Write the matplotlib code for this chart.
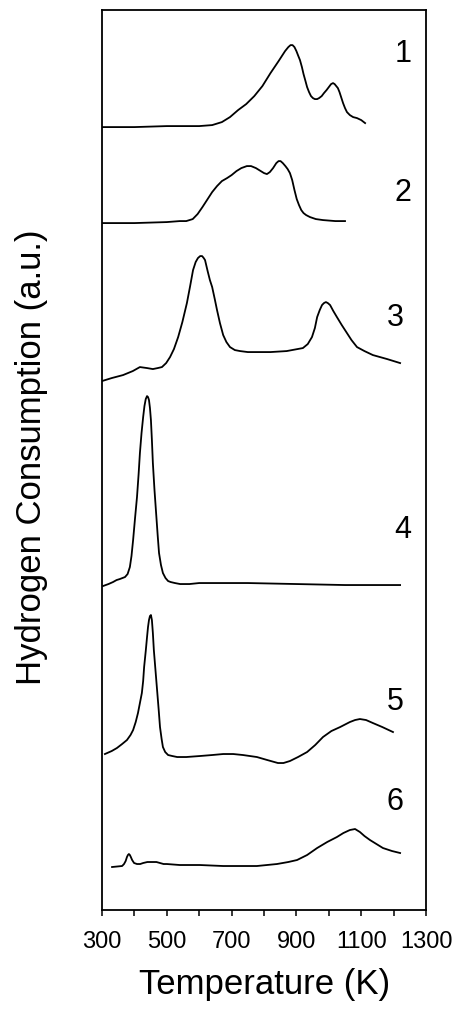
import numpy as np
import matplotlib
matplotlib.use('Agg')
import matplotlib.pyplot as plt

plt.rcParams['font.family'] = ['Liberation Sans', 'DejaVu Sans']

# TPR traces: temperature (K) and signal above each baseline (a.u.)
t1 = [300, 400, 500, 600, 640, 670, 695, 720, 745, 770, 795, 820, 845, 865, 875, 882, 888, 894,
      900, 906, 911, 917, 922, 928, 933, 939, 945, 951, 957, 964, 970, 978, 985, 993, 1000, 1007,
      1013, 1018, 1023, 1028, 1033, 1038, 1044, 1050, 1056, 1065, 1075, 1087, 1100, 1112]
s1 = [0, 0, 1, 1, 2, 5, 10, 17, 23, 31, 41, 54, 66, 76, 80, 82, 82, 80,
      76, 71, 67, 60, 53, 46, 40, 35, 31, 29, 28, 28, 29, 31, 34, 37, 40, 43,
      44, 43, 41, 39, 35, 30, 24, 19, 15, 12, 10, 9, 7, 4]

t2 = [300, 400, 500, 540, 560, 580, 595, 610, 624, 640, 655, 670, 686, 700, 715, 730, 747, 760,
      775, 790, 800, 809, 818, 828, 838, 845, 851, 858, 866, 873, 880, 887, 894, 901, 908, 915,
      922, 930, 942, 960, 982, 1020, 1050]
s2 = [0, 0, 1, 2, 2, 4, 9, 16, 23, 31, 37, 42, 45, 48, 52, 55, 57, 57,
      55, 52, 50, 49, 51, 55, 60, 62, 62, 60, 57, 54, 50, 43, 33, 24, 18, 13,
      10, 8, 6, 4, 3, 2, 2]

t3 = [300, 330, 365, 395, 417, 439, 457, 472, 485, 498, 510, 522, 535, 548, 562, 572, 581, 589,
      596, 603, 609, 614, 618, 626, 633, 640, 648, 655, 664, 674, 684, 695, 710, 726, 750, 778,
      820, 870, 920, 935, 948, 957, 964, 972, 979, 985, 991, 997, 1004, 1014, 1025, 1040, 1056,
      1070, 1087, 1110, 1136, 1180, 1220]
s3 = [0, 3, 6, 10, 14, 13, 12, 13, 14, 18, 24, 32, 44, 59, 78, 95, 111, 119,
      123, 125, 125, 123, 121, 110, 101, 94, 82, 71, 58, 46, 39, 34, 31, 30, 29, 29,
      29, 30, 33, 37, 44, 53, 64, 71, 76, 78, 79, 78, 76, 70, 64, 56, 48,
      41, 34, 30, 26, 22, 18]

t4 = [303, 320, 334, 345, 355, 363, 371, 379, 386, 391, 396, 402, 408, 413, 417, 422, 427, 431,
      435, 439, 442, 445, 448, 451, 454, 457, 462, 467, 472, 476, 482, 488, 496, 504, 512, 525,
      541, 570, 600, 750, 900, 1050, 1220]
s4 = [0, 2, 4, 6, 7, 8, 9, 12, 19, 30, 46, 68, 89, 112, 133, 153, 169, 180,
      187, 190, 189, 186, 178, 166, 146, 123, 96, 73, 50, 33, 21, 13, 8, 5, 4, 3,
      2, 2, 3, 3, 2, 1, 1]

t5 = [309, 330, 346, 362, 377, 388, 396, 404, 411, 417, 423, 427, 430, 435, 439, 442, 445, 448,
      451, 454, 457, 460, 465, 470, 475, 479, 484, 488, 495, 504, 517, 532, 560, 602, 640, 674,
      705, 735, 778, 810, 843, 860, 880, 905, 933, 958, 982, 1008, 1035, 1065, 1081, 1096, 1115,
      1136, 1165, 1198]
s5 = [1, 4, 7, 11, 15, 20, 25, 33, 42, 52, 62, 74, 88, 104, 118, 128, 135, 139,
      140, 135, 122, 105, 85, 65, 45, 28, 16, 8, 3, 0, -1, -2, -2, -1, 0, 1,
      1, 0, -2, -5, -8, -8, -6, -2, 3, 10, 18, 24, 28, 33, 35, 36, 35,
      32, 28, 23]

t6 = [331, 362, 368, 373, 377, 380, 383, 386, 389, 393, 399, 408, 418, 427, 440, 457, 468, 479,
      490, 500, 540, 602, 674, 778, 840, 875, 902, 933, 964, 995, 1025, 1045, 1065, 1081, 1096,
      1110, 1127, 1147, 1167, 1195, 1220]
s6 = [0, 1, 3, 6, 10, 12, 13, 12, 10, 7, 4, 3, 3, 4, 5, 5, 5, 4,
      3, 3, 2, 2, 1, 1, 3, 5, 7, 12, 19, 25, 30, 34, 37, 38, 35,
      31, 27, 23, 19, 16, 14]

temps = [t1, t2, t3, t4, t5, t6]
signals = [s1, s2, s3, s4, s5, s6]
names = ['1', '2', '3', '4', '5', '6']
xticks = [300, 500, 700, 900, 1100, 1300]
xminor = [400, 600, 800, 1000, 1200]

# vertical offsets for stacking and where the sample numbers sit
offsets = [783, 687, 529, 324, 155, 43]
label_x = [1229, 1229, 1204, 1229, 1204, 1204]
label_y = [856, 717, 592, 380, 208, 108]

fig = plt.figure(figsize=(4.57, 10.10), dpi=100)
ax = fig.add_axes([0.2232, 0.099, 0.709, 0.891])

for t, s, off in zip(temps, signals, offsets):
    ax.plot(t, np.array(s) + off, color='black', lw=1.3, solid_joinstyle='round')

for n, lx, ly in zip(names, label_x, label_y):
    ax.text(lx, ly, n, fontsize=22, ha='center', va='center')

ax.set_xlim(300, 1300)
ax.set_ylim(0, 900)
ax.set_xticks(xticks)
ax.set_xticks(xminor, minor=True)
ax.tick_params(axis='x', which='both', direction='out', length=4, width=1.1, labelsize=17, pad=11)
ax.set_yticks([])
for sp in ax.spines.values():
    sp.set_linewidth(1.3)

ax.set_xlabel('Temperature (K)', fontsize=25)
ax.set_ylabel('Hydrogen Consumption (a.u.)', fontsize=25)
ax.xaxis.set_label_coords(0.503, -0.064)
ax.yaxis.set_label_coords(-0.167, 0.503)

plt.savefig('out.png', dpi=100)
